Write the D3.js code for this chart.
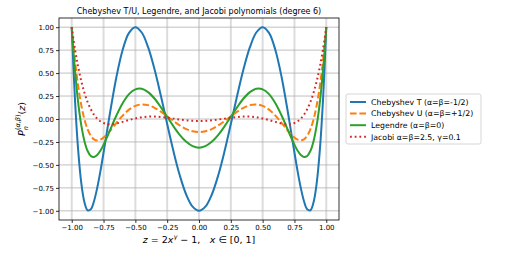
<!DOCTYPE html>
<html>
<head>
<style>
    body { margin: 0; background: #fff; }
    svg { font-family: "DejaVu Sans", sans-serif; }
</style>
<script src="https://d3js.org/d3.v7.min.js"></script>
</head>
<body>
<svg width="515" height="253"></svg>
<script>
    // z grid (denser near the ends where the curves are steep)
    var zVals = [-1, -0.975, -0.95, -0.925, -0.9, -0.875, -0.85, -0.825, -0.8, -0.775, -0.75, -0.725,
        -0.7, -0.65, -0.6, -0.55, -0.5, -0.45, -0.4, -0.35, -0.3, -0.25, -0.2, -0.15, -0.1, -0.05,
        0, 0.05, 0.1, 0.15, 0.2, 0.25, 0.3, 0.35, 0.4, 0.45, 0.5, 0.55, 0.6, 0.65, 0.7,
        0.725, 0.75, 0.775, 0.8, 0.825, 0.85, 0.875, 0.9, 0.925, 0.95, 0.975, 1];

    var chebT = [1, 0.224, -0.328, -0.695, -0.907, -0.994, -0.983, -0.895, -0.752, -0.571, -0.367, -0.153,
        0.060, 0.450, 0.752, 0.938, 1, 0.942, 0.782, 0.544, 0.255, -0.055, -0.355, -0.619, -0.825, -0.955,
        -1, -0.955, -0.825, -0.619, -0.355, -0.055, 0.255, 0.544, 0.782, 0.942, 1, 0.938, 0.752, 0.450, 0.060,
        -0.153, -0.367, -0.571, -0.752, -0.895, -0.983, -0.994, -0.907, -0.695, -0.328, 0.224, 1];

    var chebU = [1, 0.643, 0.364, 0.151, -0.005, -0.114, -0.183, -0.221, -0.233, -0.225, -0.203, -0.170,
        -0.131, -0.045, 0.037, 0.102, 0.143, 0.159, 0.151, 0.122, 0.080, 0.029, -0.023, -0.071, -0.110, -0.134,
        -0.143, -0.134, -0.110, -0.071, -0.023, 0.029, 0.080, 0.122, 0.151, 0.159, 0.143, 0.102, 0.037, -0.045, -0.131,
        -0.170, -0.203, -0.225, -0.233, -0.221, -0.183, -0.114, -0.005, 0.151, 0.364, 0.643, 1];

    var legendre = [1, 0.537, 0.187, -0.067, -0.241, -0.349, -0.403, -0.414, -0.392, -0.345, -0.281, -0.206,
        -0.125, 0.035, 0.172, 0.271, 0.323, 0.329, 0.293, 0.223, 0.129, 0.024, -0.081, -0.175, -0.249, -0.296,
        -0.313, -0.296, -0.249, -0.175, -0.081, 0.024, 0.129, 0.223, 0.293, 0.329, 0.323, 0.271, 0.172, 0.035, -0.125,
        -0.206, -0.281, -0.345, -0.392, -0.414, -0.403, -0.349, -0.241, -0.067, 0.187, 0.537, 1];

    var jacobi = [1, 0.765, 0.572, 0.413, 0.285, 0.184, 0.106, 0.047, 0.004, -0.025, -0.044, -0.053,
        -0.057, -0.049, -0.031, -0.011, 0.006, 0.019, 0.026, 0.026, 0.022, 0.014, 0.004, -0.006, -0.014, -0.020,
        -0.022, -0.020, -0.014, -0.006, 0.004, 0.014, 0.022, 0.026, 0.026, 0.019, 0.006, -0.011, -0.031, -0.049, -0.057,
        -0.053, -0.044, -0.025, 0.004, 0.047, 0.106, 0.184, 0.285, 0.413, 0.572, 0.765, 1];

    var xTicks = [-1, -0.75, -0.5, -0.25, 0, 0.25, 0.5, 0.75, 1];
    var yTicks = [-1, -0.75, -0.5, -0.25, 0, 0.25, 0.5, 0.75, 1];

    var seriesNames = ["Chebyshev T (α=β=-1/2)", "Chebyshev U (α=β=+1/2)", "Legendre (α=β=0)", "Jacobi α=β=2.5, γ=0.1"];
    var seriesValues = [chebT, chebU, legendre, jacobi];
    var colors = ["#1f77b4", "#ff7f0e", "#2ca02c", "#d62728"];
    var dashes = [null, "6.6,2.8", null, "1.8,2.9"];

    var plotL = 59, plotR = 339, plotT = 18, plotB = 220;

    var xScale = d3.scaleLinear().domain([-1.1, 1.1]).range([plotL, plotR]);
    var yScale = d3.scaleLinear().domain([-1.1, 1.1]).range([plotB, plotT]);

    var svg = d3.select("svg");

    // vertical reference lines (light, wide) and horizontal grid
    svg.append("g").selectAll("line")
        .data(xTicks).enter().append("line")
        .attr("x1", function (d) { return xScale(d); })
        .attr("x2", function (d) { return xScale(d); })
        .attr("y1", plotT).attr("y2", plotB)
        .attr("stroke", "#dcdcdc").attr("stroke-width", 2);

    svg.append("g").selectAll("line")
        .data(yTicks).enter().append("line")
        .attr("x1", plotL).attr("x2", plotR)
        .attr("y1", function (d) { return yScale(d); })
        .attr("y2", function (d) { return yScale(d); })
        .attr("stroke", "#b0b0b0").attr("stroke-width", 0.8);

    // curves
    var line = d3.line()
        .x(function (d, i) { return xScale(zVals[i]); })
        .y(function (d) { return yScale(d); })
        .curve(d3.curveCatmullRom);

    var plot = svg.append("g");
    seriesValues.forEach(function (vals, k) {
        plot.append("path")
            .attr("d", line(vals))
            .attr("fill", "none")
            .attr("stroke", colors[k])
            .attr("stroke-width", 2)
            .attr("stroke-dasharray", dashes[k]);
    });

    // axes
    var fmt = d3.format(".2f");
    var xAxis = d3.axisBottom(xScale).tickValues(xTicks).tickSize(3).tickPadding(2)
        .tickFormat(function (d) { return fmt(d).replace("-", "−"); });
    var yAxis = d3.axisLeft(yScale).tickValues(yTicks).tickSize(3).tickPadding(2)
        .tickFormat(function (d) { return fmt(d).replace("-", "−"); });

    svg.append("g").attr("transform", "translate(0," + plotB + ")").call(xAxis);
    svg.append("g").attr("transform", "translate(" + plotL + ",0)").call(yAxis);
    svg.selectAll(".domain").remove();
    svg.selectAll(".tick line").attr("stroke", "#000").attr("stroke-width", 0.8);
    svg.selectAll(".tick text")
        .attr("font-family", "DejaVu Sans").attr("font-size", 7).attr("fill", "#000");

    svg.append("rect")
        .attr("x", plotL).attr("y", plotT)
        .attr("width", plotR - plotL).attr("height", plotB - plotT)
        .attr("fill", "none").attr("stroke", "#000").attr("stroke-width", 0.8);

    // title
    svg.append("text")
        .attr("x", (plotL + plotR) / 2).attr("y", 14)
        .attr("text-anchor", "middle")
        .attr("font-size", 8)
        .text("Chebyshev T/U, Legendre, and Jacobi polynomials (degree 6)");

    // x label
    var xl = svg.append("text")
        .attr("x", (plotL + plotR) / 2).attr("y", 243)
        .attr("text-anchor", "middle")
        .attr("font-size", 9.5);
    xl.append("tspan").attr("font-style", "italic").text("z");
    xl.append("tspan").text(" = 2");
    xl.append("tspan").attr("font-style", "italic").text("x");
    xl.append("tspan").attr("font-style", "italic").attr("font-size", 6.5).attr("dy", -4).text("γ");
    xl.append("tspan").attr("dy", 4).text(" − 1,\u2002\u2002");
    xl.append("tspan").attr("font-style", "italic").text("x");
    xl.append("tspan").text(" ∈ [0, 1]");

    // y label
    var yl = svg.append("text")
        .attr("transform", "translate(25," + ((plotT + plotB) / 2) + ") rotate(-90)")
        .attr("text-anchor", "middle")
        .attr("font-size", 9.5);
    yl.append("tspan").attr("font-style", "italic").text("P");
    yl.append("tspan").attr("font-style", "italic").attr("font-size", 6.5).attr("dy", 3).text("n");
    yl.append("tspan").attr("font-size", 6.5).attr("dx", -4).attr("dy", -8).text("(");
    yl.append("tspan").attr("font-style", "italic").attr("font-size", 6.5).text("α");
    yl.append("tspan").attr("font-size", 6.5).text(",");
    yl.append("tspan").attr("font-style", "italic").attr("font-size", 6.5).text("β");
    yl.append("tspan").attr("font-size", 6.5).text(")");
    yl.append("tspan").attr("dy", 5).text("(");
    yl.append("tspan").attr("font-style", "italic").text("z");
    yl.append("tspan").text(")");

    // legend
    var legend = svg.append("g").attr("transform", "translate(346,94)");
    legend.append("rect")
        .attr("width", 135).attr("height", 50)
        .attr("rx", 2)
        .attr("fill", "#fff").attr("stroke", "#cccccc").attr("stroke-width", 0.8);
    seriesNames.forEach(function (name, k) {
        var yy = 8 + k * 11.6;
        legend.append("line")
            .attr("x1", 4).attr("x2", 20)
            .attr("y1", yy).attr("y2", yy)
            .attr("stroke", colors[k]).attr("stroke-width", 2)
            .attr("stroke-dasharray", dashes[k]);
        legend.append("text")
            .attr("x", 25).attr("y", yy + 2.8)
            .attr("font-size", 7.8)
            .text(name);
    });
</script>
</body>
</html>
